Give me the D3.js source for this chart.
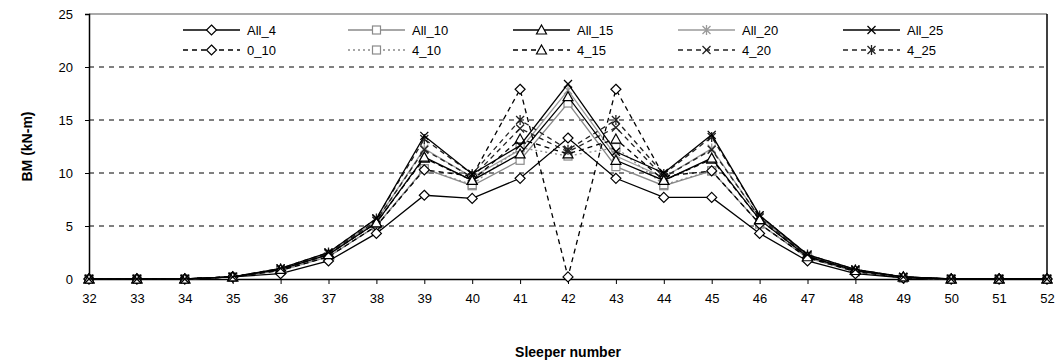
<!DOCTYPE html>
<html><head><meta charset="utf-8">
<script src="https://cdn.jsdelivr.net/npm/d3@7"></script>
<style>body{margin:0;background:#fff;} svg{display:block;font-family:"Liberation Sans",Arial,sans-serif;}</style>
</head><body>
<svg id="c" width="1059" height="364"></svg>
<script>
const categories = [32,33,34,35,36,37,38,39,40,41,42,43,44,45,46,47,48,49,50,51,52];
const seriesNames = ["All_4","All_10","All_15","All_20","All_25","0_10","4_10","4_15","4_20","4_25"];
const All_4  = [0,0,0,0.2,0.5,1.7,4.3,7.9,7.6,9.5,13.3,9.5,7.7,7.7,4.3,1.7,0.5,0.1,0,0,0];
const All_10 = [0,0,0,0.2,0.8,2.1,5.0,10.4,8.8,11.2,16.6,10.6,8.8,10.2,5.2,2.0,0.7,0.1,0,0,0];
const All_15 = [0,0,0,0.2,0.9,2.3,5.3,11.5,9.3,11.8,17.2,11.2,9.3,11.4,5.6,2.1,0.8,0.2,0,0,0];
const All_20 = [0,0,0,0.2,0.9,2.4,5.5,12.3,9.6,12.2,17.8,11.6,9.6,12.3,5.8,2.2,0.8,0.2,0,0,0];
const All_25 = [0,0,0,0.2,1.0,2.5,5.7,13.5,9.9,12.6,18.4,12.0,10.0,13.6,6.0,2.3,0.9,0.2,0,0,0];
const S0_10  = [0,0,0,0.2,0.8,2.1,5.0,10.3,9.7,17.9,0.2,17.9,9.7,10.2,5.2,2.0,0.7,0.1,0,0,0];
const S4_10  = [0,0,0,0.2,0.8,2.1,5.0,10.4,8.9,12.4,11.6,12.4,8.9,10.2,5.2,2.0,0.7,0.1,0,0,0];
const S4_15  = [0,0,0,0.2,0.9,2.3,5.3,11.4,9.3,13.2,11.8,13.2,9.3,11.3,5.6,2.1,0.8,0.2,0,0,0];
const S4_20  = [0,0,0,0.2,0.9,2.4,5.5,12.2,9.6,14.2,12.0,14.3,9.6,12.2,5.8,2.2,0.8,0.2,0,0,0];
const S4_25  = [0,0,0,0.2,1.0,2.5,5.7,13.2,9.9,15.0,12.2,15.0,9.9,13.4,6.0,2.3,0.9,0.2,0,0,0];
const yTicks = [0,5,10,15,20,25];

const seriesValues = [All_4,All_10,All_15,All_20,All_25,S0_10,S4_10,S4_15,S4_20,S4_25];
const styles = [
  {c:"#000",dash:null,m:"diamond"},
  {c:"#8a8a8a",dash:null,m:"square"},
  {c:"#000",dash:null,m:"triangle"},
  {c:"#9a9a9a",dash:null,m:"star"},
  {c:"#000",dash:null,m:"x"},
  {c:"#000",dash:"5,4",m:"diamond"},
  {c:"#8a8a8a",dash:"2,3",m:"square"},
  {c:"#000",dash:"5,4",m:"triangle"},
  {c:"#222",dash:"5,4",m:"x"},
  {c:"#222",dash:"5,4",m:"star"}
];

const svg = d3.select("#c");
const L=89,R=1047,T=14,B=279;
const x = d3.scaleLinear().domain([32,52]).range([L,R]);
const y = d3.scaleLinear().domain([0,25]).range([B,T]);

svg.append("g").selectAll("line").data([5,10,15,20]).join("line")
  .attr("x1",L).attr("x2",R).attr("y1",d=>y(d)).attr("y2",d=>y(d))
  .attr("stroke","#000").attr("stroke-width",1).attr("stroke-dasharray","5,5");
svg.append("line").attr("x1",L).attr("x2",R).attr("y1",y(25)).attr("y2",y(25)).attr("stroke","#555").attr("stroke-width",1.2);
svg.append("line").attr("x1",R).attr("x2",R).attr("y1",y(25)).attr("y2",y(0)).attr("stroke","#000").attr("stroke-width",1.5);

const yAxis = d3.axisLeft(y).tickValues(yTicks).tickSize(4).tickPadding(12);
const gy = svg.append("g").attr("transform",`translate(${L},0)`).call(yAxis);
gy.select(".domain").attr("stroke","#000").attr("stroke-width",1.5);
gy.selectAll("text").attr("font-size",13).attr("fill","#000");
const xAxis = d3.axisBottom(x).tickValues(categories).tickSize(5).tickPadding(10).tickFormat(d3.format("d"));
const gx = svg.append("g").attr("transform",`translate(0,${B})`).call(xAxis);
gx.select(".domain").attr("stroke","#000").attr("stroke-width",1.5);
gx.selectAll("text").attr("font-size",13).attr("fill","#000");

svg.append("text").attr("x",(L+R)/2).attr("y",357).attr("text-anchor","middle")
  .attr("font-size",14).attr("font-weight","bold").text("Sleeper number");
svg.append("text").attr("transform",`translate(32,${(T+B)/2}) rotate(-90)`).attr("text-anchor","middle")
  .attr("font-size",14).attr("font-weight","bold").text("BM (kN-m)");

function marker(g,type,cx,cy,col){
  const s=4;
  if(type==="diamond"){
    g.append("path").attr("d",`M${cx},${cy-s-1}L${cx+s+1},${cy}L${cx},${cy+s+1}L${cx-s-1},${cy}Z`).attr("fill","#fff").attr("stroke",col).attr("stroke-width",1.2);
  } else if(type==="square"){
    g.append("rect").attr("x",cx-s).attr("y",cy-s).attr("width",2*s).attr("height",2*s).attr("fill","#fff").attr("stroke",col).attr("stroke-width",1.2);
  } else if(type==="triangle"){
    g.append("path").attr("d",`M${cx},${cy-s-1}L${cx+s+1},${cy+s}L${cx-s-1},${cy+s}Z`).attr("fill","#fff").attr("stroke",col).attr("stroke-width",1.2);
  } else if(type==="x"){
    g.append("path").attr("d",`M${cx-s},${cy-s}L${cx+s},${cy+s}M${cx-s},${cy+s}L${cx+s},${cy-s}`).attr("stroke",col).attr("stroke-width",1.3);
  } else if(type==="star"){
    g.append("path").attr("d",`M${cx-s},${cy-s}L${cx+s},${cy+s}M${cx-s},${cy+s}L${cx+s},${cy-s}M${cx},${cy-s-1}L${cx},${cy+s+1}`).attr("stroke",col).attr("stroke-width",1.3);
  }
}

const line = d3.line().x((d,i)=>x(categories[i])).y(d=>y(d));
const order = [1,3,6,5,7,8,9,0,2,4];
order.forEach(k=>{
  const st=styles[k], vals=seriesValues[k];
  const g=svg.append("g");
  g.append("path").datum(vals).attr("d",line).attr("fill","none").attr("stroke",st.c)
    .attr("stroke-width",1.3).attr("stroke-dasharray",st.dash);
  vals.forEach((v,i)=>marker(g,st.m,x(categories[i]),y(v),st.c));
});

const lg = svg.append("g");
seriesNames.forEach((name,k)=>{
  const col=k%5,row=Math.floor(k/5);
  const x0=183+165*col, yy=row===0?30:50;
  const st=styles[k];
  lg.append("line").attr("x1",x0).attr("x2",x0+57).attr("y1",yy).attr("y2",yy).attr("stroke",st.c)
    .attr("stroke-width",1.3).attr("stroke-dasharray",st.dash);
  marker(lg,st.m,x0+28.5,yy,st.c);
  lg.append("text").attr("x",x0+64).attr("y",yy+5).attr("font-size",13).attr("fill","#000").text(name);
});
</script>
</body></html>
